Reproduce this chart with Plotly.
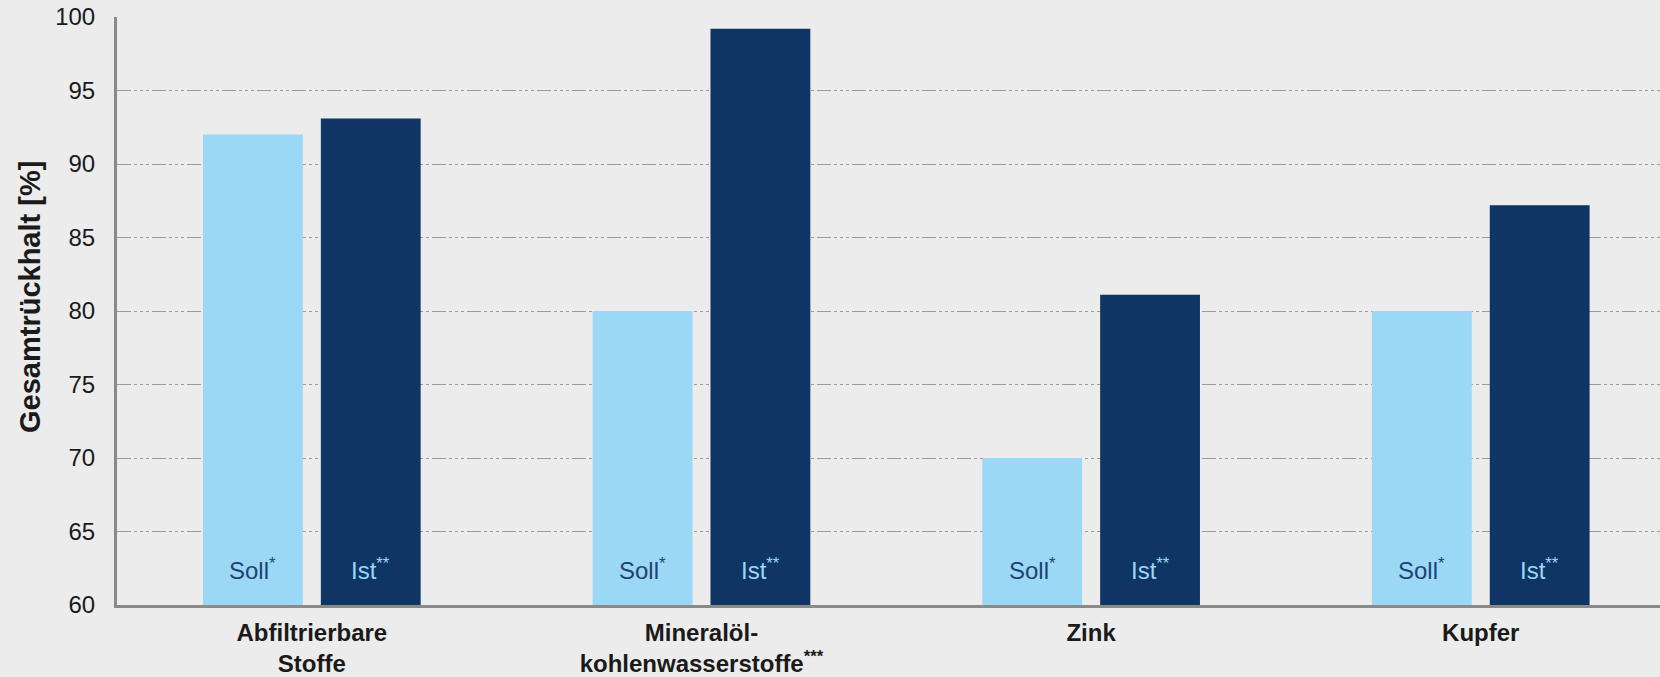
import plotly.graph_objects as go

categories = ["Abfiltrierbare<br>Stoffe", "Mineralöl-<br>kohlenwasserstoffe<sup>***</sup>", "Zink", "Kupfer"]
soll_values = [92, 80, 70, 80]
ist_values = [93.1, 99.2, 81.1, 87.2]
series_names = ["Soll<sup>*</sup>", "Ist<sup>**</sup>"]
y_ticks = [60, 65, 70, 75, 80, 85, 90, 95, 100]
y_title = "Gesamtrückhalt [%]"

LIGHT = "#9ad8f5"
DARK = "#0e3564"
BG = "#ececec"
FONT = "Liberation Sans, Arial, sans-serif"

bargap = 0.395
bargroupgap = 0.153

W, H = 1660, 677
ML, MR, MT, MB = 117, 0, 17, 72

fig = go.Figure()
idx = list(range(len(categories)))
fig.add_trace(go.Bar(x=idx, y=soll_values, name="Soll", marker=dict(color=LIGHT, line=dict(width=0)), hoverinfo="y"))
fig.add_trace(go.Bar(x=idx, y=ist_values, name="Ist", marker=dict(color=DARK, line=dict(width=0)), hoverinfo="y"))

slot = (1 - bargap) / 2
annotations = []
for i in idx:
    for k, (name, col) in enumerate(zip(series_names, ["#1d4372", LIGHT])):
        annotations.append(dict(
            x=i + (k - 0.5) * slot, y=60, xref="x", yref="y",
            text=name, showarrow=False, yanchor="middle", yshift=36,
            font=dict(family=FONT, size=24, color=col)))

plot_w = W - ML - MR
plot_h = H - MT - MB
annotations.append(dict(
    x=(30 - ML) / plot_w, y=(H - MB - 297) / plot_h, xref="paper", yref="paper",
    text=f"<b>{y_title}</b>", showarrow=False, textangle=-90,
    xanchor="center", yanchor="middle",
    font=dict(family=FONT, size=29, color="#1a1a1a")))

fig.update_layout(
    width=W, height=H,
    margin=dict(l=ML, r=MR, t=MT, b=MB, autoexpand=False),
    paper_bgcolor=BG, plot_bgcolor=BG,
    barmode="group", bargap=bargap, bargroupgap=bargroupgap,
    showlegend=False,
    font=dict(family=FONT, color="#1a1a1a"),
    annotations=annotations,
)

fig.update_xaxes(
    tickmode="array", tickvals=idx, ticktext=[f"<b>{c}</b>" for c in categories],
    range=[-0.5, 3.46], showgrid=False, zeroline=False, automargin=False,
    showline=True, linecolor="#8a8a8a", linewidth=3,
    ticks="", tickfont=dict(family=FONT, size=24, color="#1a1a1a"),
    ticklabelstandoff=4,
)
fig.update_yaxes(
    range=[60, 100], tickmode="array", tickvals=y_ticks, automargin=False,
    showgrid=True, gridcolor="#9a9a9a", gridwidth=1,
    griddash="14px,3px,3px,3px,3px,3px,3px,3px",
    zeroline=False, showline=True, linecolor="#8a8a8a", linewidth=3,
    ticks="", tickfont=dict(family=FONT, size=24, color="#1a1a1a"),
    ticklabelstandoff=14,
)

fig.write_html("out.html")
